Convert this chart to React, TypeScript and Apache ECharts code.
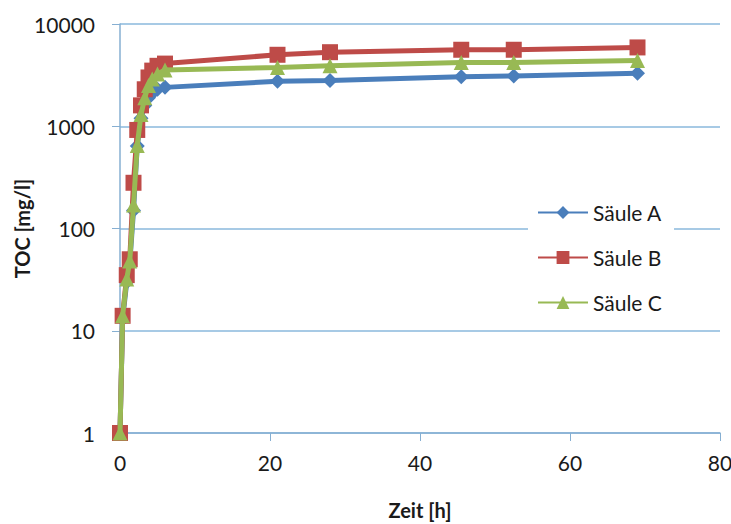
import React, { useEffect, useRef } from "react";
import * as echarts from "echarts";

const hours = [0, 0.35, 0.9, 1.3, 1.8, 2.3, 2.8, 3.3, 3.8, 4.3, 5, 6, 21, 28, 45.5, 52.5, 69];
const saeuleA = [1, 13, 30, 45, 150, 640, 1200, 1600, 1900, 2100, 2300, 2400, 2750, 2800, 3050, 3100, 3300];
const saeuleB = [1, 14, 35, 50, 280, 920, 1600, 2300, 3000, 3500, 3900, 4100, 5000, 5300, 5600, 5600, 5900];
const saeuleC = [1, 14, 32, 48, 170, 650, 1300, 1900, 2500, 2900, 3250, 3550, 3750, 3900, 4200, 4200, 4400];
const seriesNames = ["Säule A", "Säule B", "Säule C"];
const xTicks = [0, 20, 40, 60, 80];
const yTicks = [1, 10, 100, 1000, 10000];

const FONT = "Lato, 'Open Sans', sans-serif";

export default function App() {
  const ref = useRef<HTMLDivElement>(null);
  useEffect(() => {
    if (!ref.current) return;
    const chart = echarts.init(ref.current, undefined, { renderer: "svg" });
    const mk = (vals: number[]) => hours.map((h, i) => [h, vals[i]]);
    const axisColor = "#86afd2";
    chart.setOption({
      animation: false,
      backgroundColor: "#ffffff",
      textStyle: { fontFamily: FONT },
      grid: { left: 120, right: 11, top: 24, bottom: 91, containLabel: false, outerBoundsMode: "none" },
      legend: {
        orient: "vertical",
        left: 528,
        top: 192,
        backgroundColor: "#ffffff",
        padding: [10, 12, 10, 9],
        itemWidth: 50,
        itemHeight: 16,
        itemGap: 24,
        data: seriesNames,
        textStyle: { fontSize: 21, color: "#1a1a1a", fontFamily: FONT },
      },
      xAxis: {
        type: "value",
        min: xTicks[0],
        max: xTicks[xTicks.length - 1],
        interval: 20,
        name: "Zeit [h]",
        nameLocation: "middle",
        nameGap: 67,
        nameMoveOverlap: false,
        nameTextStyle: { fontSize: 20, fontWeight: "bold", color: "#1a1a1a", fontFamily: FONT },
        axisLine: { lineStyle: { color: axisColor, width: 1.5 } },
        axisTick: { show: true, length: 8, inside: false, lineStyle: { color: axisColor } },
        axisLabel: { fontSize: 21, color: "#1a1a1a", margin: 19, fontFamily: FONT },
        splitLine: { show: false },
      },
      yAxis: {
        type: "log",
        logBase: 10,
        min: yTicks[0],
        max: yTicks[yTicks.length - 1],
        name: "TOC [mg/l]",
        nameLocation: "middle",
        nameGap: 88,
        nameMoveOverlap: false,
        nameTextStyle: { fontSize: 20, fontWeight: "bold", color: "#1a1a1a", fontFamily: FONT },
        axisLine: { show: true, lineStyle: { color: axisColor, width: 1.5 } },
        axisTick: { show: true, length: 8, lineStyle: { color: axisColor } },
        axisLabel: {
          fontSize: 21,
          color: "#1a1a1a",
          margin: 25,
          fontFamily: FONT,
          formatter: (v: number) => String(Math.round(v)),
        },
        splitLine: { show: true, lineStyle: { color: "#8ab8dc", width: 1.5 } },
      },
      series: [
        {
          name: seriesNames[0],
          type: "line",
          data: mk(saeuleA),
          symbol: "diamond",
          symbolSize: 15,
          lineStyle: { width: 5, color: "#4a7ebb" },
          itemStyle: { color: "#4a7ebb" },
          z: 2,
        },
        {
          name: seriesNames[1],
          type: "line",
          data: mk(saeuleB),
          symbol: "rect",
          symbolSize: 16,
          lineStyle: { width: 5, color: "#be4b48" },
          itemStyle: { color: "#be4b48" },
          z: 3,
        },
        {
          name: seriesNames[2],
          type: "line",
          data: mk(saeuleC),
          symbol: "triangle",
          symbolSize: 15,
          lineStyle: { width: 5, color: "#98b954" },
          itemStyle: { color: "#98b954" },
          z: 4,
        },
      ],
    });
    return () => chart.dispose();
  }, []);
  return (
    <div
      ref={ref}
      style={{ position: "fixed", left: 0, top: 0, width: 731, height: 524, background: "#fff" }}
    />
  );
}
